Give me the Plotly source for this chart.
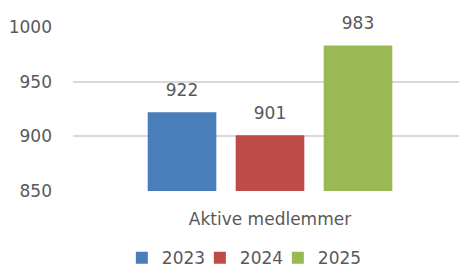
import plotly.graph_objects as go

categories = ["Aktive medlemmer"]
series_names = ["2023", "2024", "2025"]
values_2023 = [922]
values_2024 = [901]
values_2025 = [983]
colors = ["#4a7ebb", "#be4b48", "#98b954"]
tick_vals = [850, 900, 950, 1000]

FONT = "DejaVu Sans, sans-serif"
GREY = "#595959"
series_values = [values_2023, values_2024, values_2025]

fig = go.Figure()
for name, vals, col in zip(series_names, series_values, colors):
    fig.add_trace(go.Bar(
        x=categories, y=vals, name=name, offsetgroup=name,
        marker=dict(color=col, line=dict(width=0)), hoverinfo="x+y+name",
    ))

# value labels: grouped scatter traces so they sit above their bars
for name, vals in zip(series_names, series_values):
    fig.add_trace(go.Scatter(
        x=categories, y=vals, mode="markers+text", text=[str(v) for v in vals],
        textposition="top center", offsetgroup=name, showlegend=False,
        marker=dict(size=18, color="rgba(0,0,0,0)"),
        textfont=dict(color=GREY, size=17, family=FONT), cliponaxis=False,
        hoverinfo="skip",
    ))

# invisible legend spacer so the last legend label is not clipped
fig.add_trace(go.Scatter(x=[None], y=[None], name=" ", mode="markers",
                         xaxis="x2", yaxis="y2",
                         marker=dict(color="rgba(0,0,0,0)"), hoverinfo="skip"))

# page body has an 8px default margin, so the figure is drawn 8px smaller
fig.update_layout(
    width=459, height=259,
    margin=dict(l=65, r=0, t=19, b=76, autoexpand=False),
    paper_bgcolor="white", plot_bgcolor="white",
    barmode="group", bargap=0.33, bargroupgap=0.22,
    scattermode="group", scattergap=0.33,
    font=dict(family=FONT, color=GREY, size=17),
    showlegend=True,
    legend=dict(orientation="h", x=0.124, xanchor="left", y=-0.41, yanchor="middle",
                font=dict(size=17, color=GREY, family=FONT), itemwidth=30,
                entrywidth=33, entrywidthmode="pixels"),
    xaxis=dict(showgrid=False, showline=False, ticks="", automargin=False,
               tickfont=dict(size=17, color=GREY, family=FONT), ticklabelstandoff=16),
    yaxis=dict(range=[850, 1000], tickvals=tick_vals, showgrid=True, gridcolor="#d9d9d9",
               gridwidth=1.5, zeroline=False, showline=False, ticks="", automargin=False,
               tickfont=dict(size=17, color=GREY, family=FONT), ticklabelstandoff=20),
    xaxis2=dict(visible=False, overlaying="x"),
    yaxis2=dict(visible=False, overlaying="y"),
)
fig.write_html("out.html")
